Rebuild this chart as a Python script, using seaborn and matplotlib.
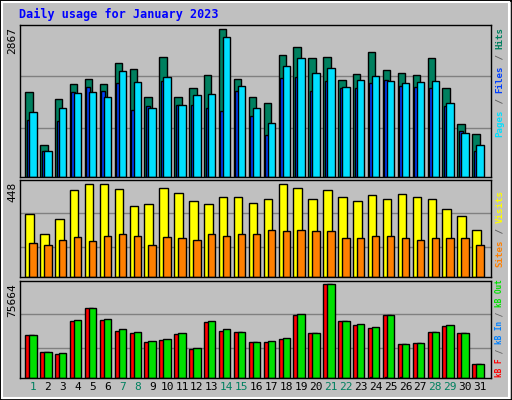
import matplotlib
matplotlib.use("Agg")
from matplotlib import pyplot as plt
from matplotlib.patches import Rectangle
import seaborn as sns
import numpy as np
import pandas as pd

days = list(range(1, 32))
weekend = [1, 7, 8, 14, 15, 21, 22, 28, 29]

hits = [1641, 629, 1505, 1797, 1894, 1797, 2205, 2089, 1544, 2322, 1544, 1719, 1972, 2867, 1894, 1544,
        1446, 2361, 2517, 2303, 2322, 1874, 1991, 2419, 2069, 2011, 1972, 2303, 1719, 1038, 843]
files = [1271, 512, 1349, 1622, 1641, 1544, 2050, 1836, 1330, 1933, 1407, 1583, 1602, 2711, 1758, 1330,
         1057, 2147, 2303, 2011, 2108, 1738, 1874, 1952, 1855, 1816, 1836, 1855, 1446, 863, 629]
pages = [1116, 512, 1096, 1641, 1738, 1660, 1816, 1310, 1388, 1855, 1407, 1407, 1330, 1291, 1660, 1193,
         824, 1913, 1933, 1660, 1855, 1719, 1719, 1816, 1874, 1758, 1738, 1719, 1388, 902, 512]
visits = [294, 200, 275, 407, 435, 435, 412, 332, 341, 417, 393, 355, 341, 374, 374, 346,
          369, 435, 417, 365, 407, 374, 355, 384, 369, 388, 374, 365, 322, 289, 223]
sites = [162, 152, 176, 190, 167, 195, 200, 195, 152, 190, 185, 176, 204, 195, 200, 200,
         223, 214, 223, 214, 214, 185, 181, 195, 195, 185, 176, 185, 185, 185, 152]
kb_out = [35070, 20985, 20160, 46670, 56610, 47500, 39210, 37550, 30100, 31750, 36720, 24300, 45840, 39210,
          37550, 29270, 30100, 32580, 51630, 36720, 75664, 45840, 43350, 40870, 50810, 27610, 28440, 37550,
          42520, 36720, 11040]
kb_f = [35070, 20985, 19330, 45840, 56610, 46670, 38380, 36720, 29270, 30920, 35890, 23470, 45010, 38380,
        37550, 29270, 29270, 31750, 50810, 36720, 75664, 45840, 42520, 40040, 50810, 27610, 28440, 37550,
        41690, 36720, 11040]
kb_in = [300, 300, 300, 300, 300, 300, 300, 300, 300, 300, 300, 300, 300, 300, 300, 300,
         300, 300, 300, 300, 300, 300, 300, 900, 900, 900, 300, 300, 300, 300, 300]

df = pd.DataFrame({"day": days, "hits": hits, "files": files, "pages": pages, "visits": visits,
                   "sites": sites, "kb_out": kb_out, "kb_f": kb_f, "kb_in": kb_in})

BG = "#C0C0C0"
MONO = "DejaVu Sans Mono"
sns.set_style("white")
plt.rcParams["font.family"] = MONO

fig = plt.figure(figsize=(5.12, 4.0), dpi=100, facecolor=BG)
fig.patches.append(Rectangle((0, 0), 1, 1, transform=fig.transFigure, fill=False, ec="black", lw=2))
fig.patches.append(Rectangle((0.004, 0.005), 0.99, 0.99, transform=fig.transFigure, fill=False,
                             ec="white", lw=1.5))

W, H = 512, 400
x0, x1 = 20, 491


def panel(top, bottom):
    return fig.add_axes([x0 / W, 1 - bottom / H, (x1 - x0) / W, (bottom - top) / H])


def bars(ax, col, offset, width, color):
    d = df.assign(pos=df["day"] + offset)
    sns.barplot(data=d, x="pos", y=col, native_scale=True, width=width, color=color,
                edgecolor="black", linewidth=1, errorbar=None, ax=ax, saturation=1)


def style(ax, top, grid):
    ax.set_facecolor(BG)
    ax.set_xlim(0.13, 31.74)
    ax.set_ylim(0, top)
    ax.set_yticks(grid)
    ax.yaxis.grid(True, color="#808080", lw=1)
    ax.set_axisbelow(True)
    ax.set_xlabel("")
    ax.set_ylabel("")
    ax.tick_params(length=0, labelleft=False, labelbottom=False)
    for s in ax.spines.values():
        s.set_color("black")
        s.set_linewidth(1)


def side_label(parts, y_start, fs):
    # vertical coloured legend on the right, read from bottom to top
    adv = fs * 0.602 / 72 * 100 / H
    y = y_start
    for txt, col in parts:
        fig.text(500 / W, y, txt, rotation=90, rotation_mode="anchor", ha="left", va="center",
                 color=col, fontsize=fs, fontweight="bold", family=MONO)
        y += adv * len(txt)


ax1 = panel(25, 177)
bars(ax1, "hits", -0.27, 0.5, "#00805F")
bars(ax1, "pages", -0.285, 0.27, "#0040FF")
bars(ax1, "files", 0.0, 0.5, "#00E0FF")
style(ax1, 2951, [960, 1952])

ax2 = panel(180, 277)
bars(ax2, "visits", -0.235, 0.57, "#FFFF00")
bars(ax2, "sites", 0.0, 0.5, "#FF8000")
style(ax2, 456, [143, 299])

ax3 = panel(281, 378)
bars(ax3, "kb_f", -0.235, 0.57, "#FF0000")
bars(ax3, "kb_in", -0.3, 0.15, "#0080FF")
bars(ax3, "kb_out", 0.0, 0.5, "#00E000")
style(ax3, 78410, [24570, 51630])

ax3.tick_params(labelbottom=True, pad=3)
ax3.set_xticks(days)
ax3.set_xticklabels([str(d) for d in days], fontsize=8)
for lab, d in zip(ax3.get_xticklabels(), days):
    lab.set_color("#00805F" if d in weekend else "black")

fig.text(19 / W, 1 - 14 / H, "Daily usage for January 2023", color="#0000FF", fontsize=8.5,
         fontweight="bold", va="center", ha="left")
for lab, top_px in [("2867", 27), ("448", 182), ("75664", 283)]:
    fig.text(12 / W, 1 - top_px / H, lab, rotation=90, ha="center", va="top", fontsize=8, color="black")

grey = "#606060"
side_label([("Pages", "#00E0FF"), (" / ", grey), ("Files", "#0040FF"), (" / ", grey),
            ("Hits", "#00805F")], 1 - 137 / H, 6.6)
side_label([("Sites", "#FF8000"), (" / ", grey), ("Visits", "#FFFF00")], 1 - 267 / H, 6.6)
side_label([("kB F", "#FF0000"), (" / ", grey), ("kB In", "#0080FF"), (" / ", grey),
            ("kB Out", "#00E000")], 1 - 377 / H, 5.6)

fig.savefig("out.png", dpi=100, facecolor=BG)
